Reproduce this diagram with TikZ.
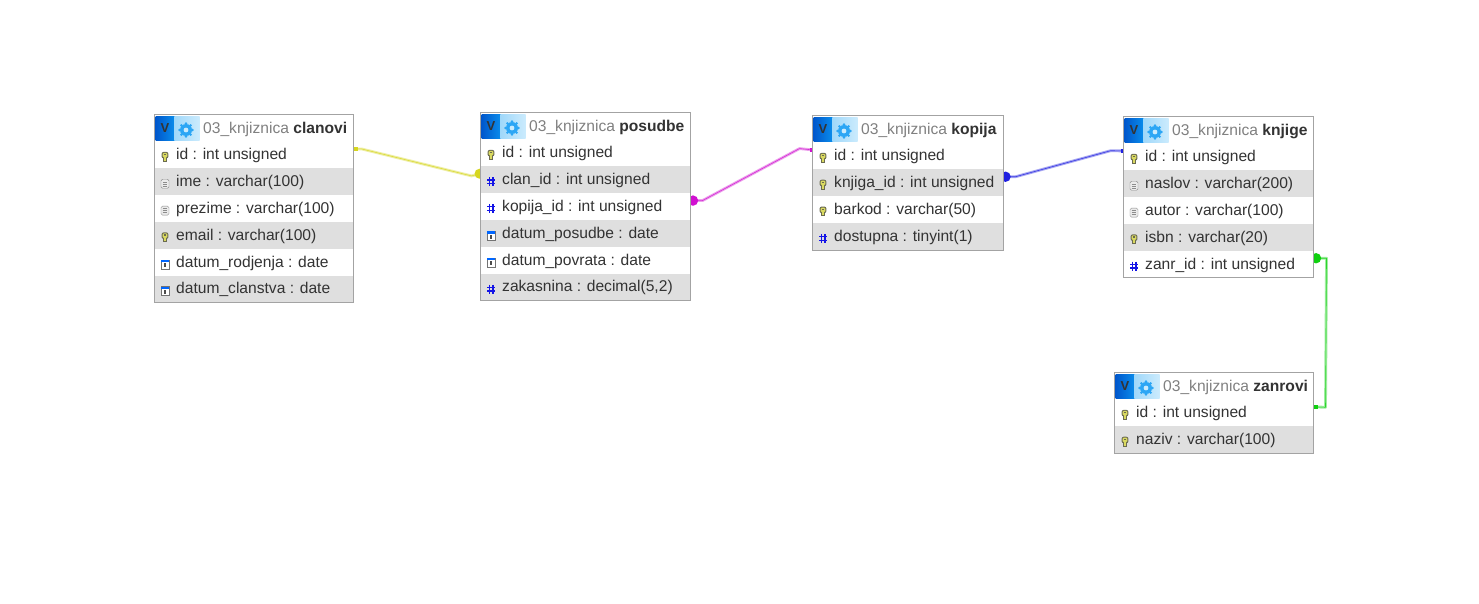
\documentclass[tikz,border=0pt]{standalone}
\usepackage{fontspec}
\setmainfont{Liberation Sans}
\usetikzlibrary{calc,backgrounds,positioning}
\definecolor{rowgrey}{HTML}{DFDFDF}
\definecolor{boxgrey}{HTML}{A3A3A3}
\definecolor{inktext}{HTML}{333333}
\definecolor{headgrey}{HTML}{808080}
\definecolor{hashblue}{HTML}{1414E6}
\definecolor{linkyellow}{HTML}{D6D61E}
\definecolor{linkpink}{HTML}{D010D0}
\definecolor{linkblue}{HTML}{2020E0}
\definecolor{linkgreen}{HTML}{10D010}
\definecolor{btnblue}{HTML}{0057CC}
\definecolor{btnblueb}{HTML}{0A8CEB}
\definecolor{cogpale}{HTML}{A0D8FA}
\definecolor{cogpaleb}{HTML}{CBEBFD}
\definecolor{cogblue}{HTML}{2CA6F5}
\definecolor{keyedge}{HTML}{6B6B50}
\definecolor{keyfill}{HTML}{D9D960}
\tikzset{
  x=1pt,y=-1pt,
  rowbox/.style={minimum height=26.83pt,inner sep=0pt,anchor=north west,outer sep=0pt},
  rowtext/.style={font=\fontsize{15.6}{18}\selectfont,text=inktext,anchor=mid west,inner sep=0pt},
  headtext/.style={font=\fontsize{15.6}{18}\selectfont,text=headgrey,anchor=mid west,inner sep=0pt},
  pale/.style={line width=2.8pt,opacity=.4,line join=round},
  core/.style={line width=.6pt,opacity=.8,line join=round},
  pics/keyf/.style={code={
    \fill[keyedge,rounded corners=2pt] (-3.4,-5) rectangle (3.4,1.5);
    \fill[keyedge] (-2.4,0) rectangle (2.4,4.8);
    \fill[keyfill,rounded corners=1pt] (-2.3,-4) rectangle (2.3,.4);
    \fill[keyfill] (-1.2,0) rectangle (1.2,3.8);
    \fill[keyedge] (-.8,-3) rectangle (.8,-1.6);
  }},
  pics/textf/.style={code={
    \draw[black!45,fill=black!8,rounded corners=1.5pt] (-4,-4.5) rectangle (4,4.5);
    \foreach \l in {-2,0,2} \draw[black!45] (-2.4,\l) -- (2.4,\l);
  }},
  pics/hashf/.style={code={
    \draw[hashblue,line width=1.4pt]
      (-1.8,-4.5) -- (-1.8,4.5) (1.8,-4.5) -- (1.8,4.5)
      (-4,-1.8) -- (4,-1.8) (-4,1.8) -- (4,1.8);
  }},
  pics/datef/.style={code={
    \draw[black!55,fill=white] (-4.2,-4.5) rectangle (4.2,4.5);
    \fill[blue!60!cyan] (-4.2,-4.5) rectangle (4.2,-1.8);
    \fill[black!70] (-.9,-.8) rectangle (.9,3.2);
  }}
}
% one table: name, x, y, width, rows, title, list of icon/text
\newcommand{\dbtable}[7]{
  \node[rowbox,minimum width=#4pt] (#1-head) at (#2,#3) {};
  \node[rowbox,minimum width=19pt,minimum height=24pt,left color=btnblue,right color=btnblueb] (#1-btn) at ($(#1-head.north west)+(1,2)$) {};
  \node[rowbox,minimum width=25pt,minimum height=24pt,left color=cogpale,right color=cogpaleb] (#1-cog) at (#1-btn.north east) {};
  \node[font=\bfseries\fontsize{13}{13}\selectfont,text=black!80,inner sep=0pt] (#1-v) at (#1-btn.center) {V};
  \fill[cogblue] ($(#1-cog.center)+(-1,1.5)$) circle (6pt);
  \foreach \a in {0,45,...,315}
    \fill[cogblue] ($(#1-cog.center)+(-1,1.5)+(\a:6.5pt)$) circle (1.4pt);
  \fill[cogpaleb] ($(#1-cog.center)+(-1,1.5)$) circle (2.4pt);
  \node[headtext] (#1-title) at ($(#1-head.west)+(48.5,3)$) {03\_knjiznica \textcolor{inktext}{\textbf{#6}}};
  \foreach \ic/\txt [count=\r] in {#7} {
    \ifodd\r \def\rowfill{white}\else \def\rowfill{rowgrey}\fi
    \node[rowbox,minimum width=#4pt,fill=\rowfill] (#1-\r) at ($(#2,#3)+(0,27)+(0,{(\r-1)*26.83})$) {};
    \pic at ($(#1-\r.west)+(10.5,2)$) {\ic};
    \node[rowtext] (#1-\r-t) at ($(#1-\r.west)+(21.5,2.2)$) {\txt};
    \coordinate (#1-\r-w) at ($(#1-\r.west)+(0,-6)$);
    \coordinate (#1-\r-e) at ($(#1-\r.east)+(0,-6)$);
  }
  \draw[boxgrey] (#1-head.north west) rectangle (#1-#5.south east);
}
% foreign key link: start, path, colour
\newcommand{\fklink}[3]{
  \draw[pale,#3] #1 #2;
  \draw[core,#3] #1 #2;
}
\begin{document}
\begin{tikzpicture}
  \useasboundingbox (0,0) rectangle (1479,604);
  \dbtable{clanovi}{154.5}{114.5}{199}{6}{clanovi}{keyf/id : int unsigned,textf/ime : varchar(100),textf/prezime : varchar(100),keyf/email : varchar(100),datef/datum\_rodjenja : date,datef/datum\_clanstva : date}
  \dbtable{posudbe}{480.5}{112.5}{210}{6}{posudbe}{keyf/id : int unsigned,hashf/clan\_id : int unsigned,hashf/kopija\_id : int unsigned,datef/datum\_posudbe : date,datef/datum\_povrata : date,hashf/{zakasnina : decimal(5,2)}}
  \dbtable{kopija}{812.5}{115.5}{191}{4}{kopija}{keyf/id : int unsigned,keyf/knjiga\_id : int unsigned,keyf/barkod : varchar(50),hashf/dostupna : tinyint(1)}
  \dbtable{knjige}{1123.5}{116.5}{190}{5}{knjige}{keyf/id : int unsigned,textf/naslov : varchar(200),textf/autor : varchar(100),keyf/isbn : varchar(20),hashf/zanr\_id : int unsigned}
  \dbtable{zanrovi}{1114.5}{372.5}{199}{2}{zanrovi}{keyf/id : int unsigned,keyf/naziv : varchar(100)}
  \begin{scope}[on background layer]
    \fill[white] (0,0) rectangle (1479,604);
    \fklink{(clanovi-1-e)}{-- ++(8,0) -- ++(110,27) -- (posudbe-2-w)}{linkyellow}
    \fill[linkyellow] ($(posudbe-2-w)+(-1,0)$) circle (5pt);
    \fill[linkyellow] ($(clanovi-1-e)+(0,-2)$) rectangle ++(4,4);
    \fklink{(posudbe-3-e)}{-- ++(12,0) -- ++(97,-52) -- (kopija-1-w)}{linkpink}
    \fill[linkpink] ($(posudbe-3-e)+(2.5,0)$) circle (5.2pt);
    \fill[linkpink] ($(kopija-1-w)+(-3,-2)$) rectangle ++(3,4);
    \fklink{(kopija-2-e)}{-- ++(12,0) -- ++(95,-26) -- (knjige-1-w)}{linkblue}
    \fill[linkblue] ($(kopija-2-e)+(2,0)$) circle (5.2pt);
    \fill[linkblue] ($(knjige-1-w)+(-3,-2)$) rectangle ++(3,4);
    \fklink{(knjige-5-e)}{-- ++(13,0) -- ++(-1,149) -- (zanrovi-1-e)}{linkgreen}
    \fill[linkgreen] ($(knjige-5-e)+(2.5,0)$) circle (5.2pt);
    \fill[linkgreen] ($(zanrovi-1-e)+(0,-2)$) rectangle ++(4,4);
  \end{scope}
\end{tikzpicture}
\end{document}
